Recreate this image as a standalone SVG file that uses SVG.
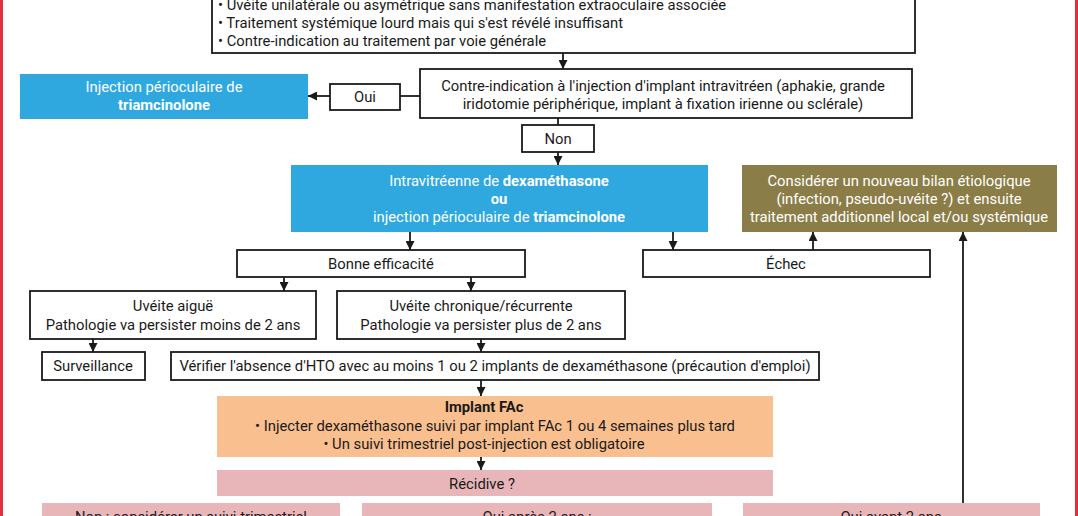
<svg xmlns="http://www.w3.org/2000/svg" width="1078" height="516" viewBox="0 0 1078 516">
<defs>
<style>
text{font-family:Roboto,"Liberation Sans",sans-serif;font-size:14.8px;fill:#1a1a1a}
.c{text-anchor:middle}
.w{fill:#ffffff}
.b{font-weight:bold}
.box{fill:#ffffff;stroke:#1a1a1a;stroke-width:1.8}
.blue{fill:#2ea8df}
.olive{fill:#8b7d47}
.orange{fill:#f9bf8f}
.pink{fill:#e8b6b9}
.ln{fill:none;stroke:#1a1a1a;stroke-width:1.8}
</style>
<marker id="ah" viewBox="0 0 10 10" refX="10" refY="5" markerWidth="9" markerHeight="9" markerUnits="userSpaceOnUse" orient="auto">
<path d="M0,0 L10,5 L0,10 z" fill="#1a1a1a"/>
</marker>
</defs>
<rect x="0" y="0" width="1078" height="516" fill="#ffffff"/>
<rect x="0" y="0" width="3" height="516" fill="#e0303a"/>
<rect x="1075" y="0" width="3" height="516" fill="#e0303a"/>

<g id="criteria">
<rect class="box" x="212" y="-4" width="703" height="57"/>
<text x="218" y="10">• Uvéite unilatérale ou asymétrique sans manifestation extraoculaire associée</text>
<text x="218" y="28">• Traitement systémique lourd mais qui s'est révélé insuffisant</text>
<text x="218" y="46">• Contre-indication au traitement par voie générale</text>
</g>

<g id="contraindication">
<rect class="box" x="420" y="69" width="492" height="49"/>
<text class="c" x="663" y="91">Contre-indication à l'injection d'implant intravitréen (aphakie, grande</text>
<text class="c" x="663" y="109">iridotomie périphérique, implant à fixation irienne ou sclérale)</text>
</g>

<g id="oui">
<rect class="box" x="330" y="84" width="70" height="26"/>
<text class="c" x="365" y="102">Oui</text>
</g>

<g id="peri-triam">
<rect class="blue" x="20" y="74" width="288" height="45"/>
<text class="c w" x="164" y="92">Injection périoculaire de</text>
<text class="c w b" x="164" y="110">triamcinolone</text>
</g>

<g id="non">
<rect class="box" x="522" y="125" width="72" height="27"/>
<text class="c" x="558" y="144">Non</text>
</g>

<g id="treatment">
<rect class="blue" x="291" y="165" width="417" height="67"/>
<text class="c w" x="499" y="186">Intravitréenne de <tspan class="b w">dexaméthasone</tspan></text>
<text class="c w b" x="499" y="204">ou</text>
<text class="c w" x="499" y="222">injection périoculaire de <tspan class="b w">triamcinolone</tspan></text>
</g>

<g id="bilan">
<rect class="olive" x="742" y="165" width="315" height="67"/>
<text class="c w" x="899" y="186">Considérer un nouveau bilan étiologique</text>
<text class="c w" x="899" y="204">(infection, pseudo-uvéite ?) et ensuite</text>
<text class="c w" x="899" y="222">traitement additionnel local et/ou systémique</text>
</g>

<g id="bonne">
<rect class="box" x="237" y="250" width="288" height="27"/>
<text class="c" x="381" y="269">Bonne efficacité</text>
</g>

<g id="echec">
<rect class="box" x="643" y="250" width="287" height="27"/>
<text class="c" x="786" y="269">Échec</text>
</g>

<g id="aigue">
<rect class="box" x="30" y="291" width="286" height="48"/>
<text class="c" x="173" y="311">Uvéite aiguë</text>
<text class="c" x="173" y="330">Pathologie va persister moins de 2 ans</text>
</g>

<g id="chronique">
<rect class="box" x="337" y="291" width="288" height="48"/>
<text class="c" x="481" y="311">Uvéite chronique/récurrente</text>
<text class="c" x="481" y="330">Pathologie va persister plus de 2 ans</text>
</g>

<g id="surveillance">
<rect class="box" x="42" y="352" width="103" height="28"/>
<text class="c" x="93" y="371">Surveillance</text>
</g>

<g id="verifier">
<rect class="box" x="171" y="352" width="648" height="28"/>
<text class="c" x="495" y="371">Vérifier l'absence d'HTO avec au moins 1 ou 2 implants de dexaméthasone  (précaution d'emploi)</text>
</g>

<g id="fac">
<rect class="orange" x="217" y="396" width="556" height="61"/>
<text class="c b" x="484" y="412">Implant FAc</text>
<text class="c" x="495" y="431">• Injecter dexaméthasone suivi par implant FAc 1 ou 4 semaines plus tard</text>
<text class="c" x="484" y="449">• Un suivi trimestriel post-injection est obligatoire</text>
</g>

<g id="recidive">
<rect class="pink" x="217" y="470" width="556" height="26"/>
<text class="c" x="482" y="489">Récidive ?</text>
</g>

<g id="non-suivi">
<rect class="pink" x="42" y="503" width="298" height="20"/>
<text class="c" x="191" y="522">Non : considérer un suivi trimestriel</text>
</g>

<g id="oui-apres">
<rect class="pink" x="362" y="503" width="350" height="20"/>
<text class="c" x="537" y="522">Oui après 2 ans :</text>
</g>

<g id="oui-avant">
<rect class="pink" x="743" y="503" width="297" height="20"/>
<text class="c" x="891" y="522">Oui avant 2 ans</text>
</g>

<g id="connectors">
<line class="ln" x1="563" y1="53" x2="563" y2="69" marker-end="url(#ah)"/>
<line class="ln" x1="420" y1="96" x2="400" y2="96"/>
<line class="ln" x1="330" y1="96" x2="308" y2="96" marker-end="url(#ah)"/>
<line class="ln" x1="558" y1="118" x2="558" y2="125"/>
<line class="ln" x1="558" y1="152" x2="558" y2="165" marker-end="url(#ah)"/>
<line class="ln" x1="410" y1="232" x2="410" y2="250" marker-end="url(#ah)"/>
<line class="ln" x1="673" y1="232" x2="673" y2="250" marker-end="url(#ah)"/>
<line class="ln" x1="813" y1="250" x2="813" y2="232" marker-end="url(#ah)"/>
<line class="ln" x1="963" y1="503" x2="963" y2="232" marker-end="url(#ah)"/>
<line class="ln" x1="284" y1="277" x2="284" y2="291" marker-end="url(#ah)"/>
<line class="ln" x1="471" y1="277" x2="471" y2="291" marker-end="url(#ah)"/>
<line class="ln" x1="93" y1="339" x2="93" y2="352" marker-end="url(#ah)"/>
<line class="ln" x1="481" y1="339" x2="481" y2="352" marker-end="url(#ah)"/>
<line class="ln" x1="481" y1="380" x2="481" y2="396" marker-end="url(#ah)"/>
<line class="ln" x1="481" y1="457" x2="481" y2="470" marker-end="url(#ah)"/>
</g>
</svg>
